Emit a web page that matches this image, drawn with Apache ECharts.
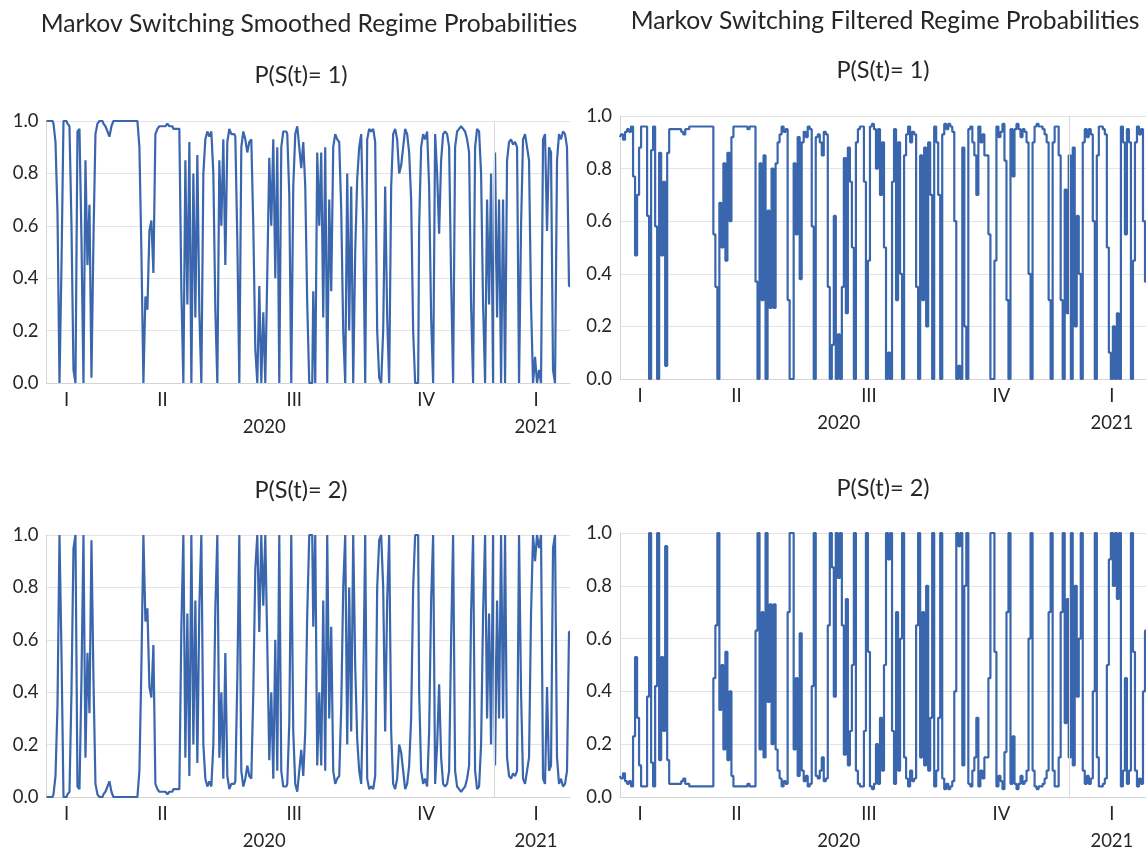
<!DOCTYPE html>
<html>
<head>
<meta charset="utf-8">
<script src="https://cdn.jsdelivr.net/npm/echarts@6/dist/echarts.min.js"></script>
<style>
html,body{margin:0;padding:0;background:#fff;}
#chart{width:1146px;height:852px;}
</style>
</head>
<body>
<div id="chart"></div>
<script>
// Smoothed P(S(t)=1)
var smoothedP1 = [
1.0,1.0,1.0,1.0,0.99,0.92,0.65,0.0,0.45,1.0,
1.0,0.99,0.98,0.6,0.05,0.0,0.96,0.97,0.55,0.0,
0.85,0.45,0.68,0.02,0.55,0.95,0.99,1.0,1.0,0.99,
0.98,0.96,0.94,0.98,1.0,1.0,1.0,1.0,1.0,1.0,
1.0,1.0,1.0,1.0,1.0,1.0,1.0,0.9,0.5,0.0,
0.33,0.28,0.58,0.62,0.42,0.95,0.97,0.98,0.98,0.98,
0.98,0.99,0.98,0.98,0.97,0.97,0.97,0.96,0.35,0.0,
0.85,0.3,0.92,0.0,0.8,0.25,0.87,0.27,0.0,0.8,
0.93,0.96,0.94,0.96,0.8,0.28,0.0,0.85,0.6,0.93,
0.45,0.92,0.97,0.95,0.95,0.94,0.55,0.0,0.9,0.96,
0.93,0.88,0.92,0.93,0.6,0.13,0.0,0.37,0.0,0.27,
0.0,0.42,0.86,0.6,0.93,0.4,0.9,0.0,0.9,0.96,
0.96,0.95,0.72,0.0,0.75,0.95,0.98,0.9,0.82,0.92,
0.75,0.3,0.0,0.0,0.35,0.0,0.88,0.6,0.88,0.25,
0.9,0.0,0.7,0.35,0.9,0.95,0.93,0.92,0.66,0.2,
0.0,0.8,0.2,0.75,0.0,0.5,0.78,0.9,0.95,0.6,
0.0,0.93,0.97,0.96,0.97,0.92,0.2,0.02,0.0,0.2,
0.75,0.25,0.0,0.75,0.95,0.97,0.93,0.8,0.83,0.9,
0.97,0.95,0.88,0.7,0.2,0.0,0.0,0.6,0.9,0.95,
0.93,0.96,0.75,0.25,0.0,0.95,0.8,0.57,0.85,0.95,
0.96,0.95,0.9,0.4,0.0,0.9,0.96,0.97,0.98,0.97,
0.96,0.93,0.88,0.3,0.0,0.9,0.97,0.96,0.8,0.3,
0.0,0.7,0.3,0.8,0.0,0.88,0.25,0.7,0.0,0.7,
0.0,0.85,0.92,0.93,0.91,0.92,0.9,0.0,0.6,0.93,
0.95,0.9,0.85,0.3,0.0,0.1,0.0,0.05,0.0,0.93,
0.95,0.58,0.9,0.88,0.05,0.0,0.85,0.95,0.93,0.96,
0.95,0.9,0.37
];
// Smoothed P(S(t)=2)
var smoothedP2 = [
0.0,0.0,0.0,0.0,0.01,0.08,0.35,1.0,0.55,0.0,
0.0,0.01,0.02,0.4,0.95,1.0,0.04,0.03,0.45,1.0,
0.15,0.55,0.32,0.98,0.45,0.05,0.01,0.0,0.0,0.01,
0.02,0.04,0.06,0.02,0.0,0.0,0.0,0.0,0.0,0.0,
0.0,0.0,0.0,0.0,0.0,0.0,0.0,0.1,0.5,1.0,
0.67,0.72,0.42,0.38,0.58,0.05,0.03,0.02,0.02,0.02,
0.02,0.01,0.02,0.02,0.03,0.03,0.03,0.04,0.65,1.0,
0.15,0.7,0.08,1.0,0.2,0.75,0.13,0.73,1.0,0.2,
0.07,0.04,0.06,0.04,0.2,0.72,1.0,0.15,0.4,0.07,
0.55,0.08,0.03,0.05,0.05,0.06,0.45,1.0,0.1,0.04,
0.07,0.12,0.08,0.07,0.4,0.87,1.0,0.63,1.0,0.73,
1.0,0.58,0.14,0.4,0.07,0.6,0.1,1.0,0.1,0.04,
0.04,0.05,0.28,1.0,0.25,0.05,0.02,0.1,0.18,0.08,
0.25,0.7,1.0,1.0,0.65,1.0,0.12,0.4,0.12,0.75,
0.1,1.0,0.3,0.65,0.1,0.05,0.07,0.08,0.34,0.8,
1.0,0.2,0.8,0.25,1.0,0.5,0.22,0.1,0.05,0.4,
1.0,0.07,0.03,0.04,0.03,0.08,0.8,0.98,1.0,0.8,
0.25,0.75,1.0,0.25,0.05,0.03,0.07,0.2,0.17,0.1,
0.03,0.05,0.12,0.3,0.8,1.0,1.0,0.4,0.1,0.05,
0.07,0.04,0.25,0.75,1.0,0.05,0.2,0.43,0.15,0.05,
0.04,0.05,0.1,0.6,1.0,0.1,0.04,0.03,0.02,0.03,
0.04,0.07,0.12,0.7,1.0,0.1,0.03,0.04,0.2,0.7,
1.0,0.3,0.7,0.2,1.0,0.12,0.75,0.3,1.0,0.3,
1.0,0.15,0.08,0.07,0.09,0.08,0.1,1.0,0.4,0.07,
0.05,0.1,0.15,0.7,1.0,0.9,1.0,0.95,1.0,0.07,
0.05,0.42,0.1,0.12,0.95,1.0,0.15,0.05,0.07,0.04,
0.05,0.1,0.63
];
// Filtered P(S(t)=1)
var filteredP1 = [
0.92,0.93,0.91,0.94,0.95,0.94,0.96,0.77,0.47,0.7,
0.88,0.96,0.96,0.96,0.62,0.0,0.87,0.96,0.58,0.0,
0.86,0.47,0.75,0.05,0.86,0.95,0.95,0.95,0.95,0.95,
0.95,0.94,0.93,0.95,0.95,0.96,0.96,0.96,0.96,0.96,
0.96,0.96,0.96,0.96,0.96,0.96,0.96,0.55,0.35,0.0,
0.67,0.5,0.82,0.45,0.86,0.6,0.92,0.96,0.96,0.96,
0.96,0.96,0.96,0.96,0.95,0.96,0.96,0.96,0.37,0.0,
0.82,0.3,0.85,0.0,0.64,0.27,0.8,0.27,0.82,0.9,
0.93,0.96,0.94,0.95,0.3,0.0,0.0,0.82,0.55,0.92,
0.38,0.9,0.94,0.92,0.96,0.95,0.58,0.0,0.92,0.93,
0.9,0.85,0.94,0.93,0.35,0.0,0.13,0.62,0.0,0.17,
0.0,0.35,0.84,0.25,0.88,0.75,0.5,0.0,0.9,0.95,
0.96,0.96,0.75,0.0,0.45,0.96,0.97,0.95,0.8,0.95,
0.7,0.9,0.5,0.0,0.1,0.0,0.75,0.95,0.3,0.9,
0.4,0.0,0.85,0.93,0.96,0.9,0.94,0.93,0.35,0.0,
0.85,0.3,0.88,0.2,0.9,0.7,0.0,0.96,0.9,0.7,
0.0,0.93,0.97,0.95,0.97,0.96,0.94,0.6,0.0,0.05,
0.0,0.88,0.2,0.0,0.95,0.96,0.9,0.85,0.7,0.96,
0.9,0.93,0.85,0.85,0.55,0.0,0.0,0.45,0.96,0.92,
0.94,0.97,0.83,0.3,0.0,0.95,0.77,0.95,0.97,0.95,
0.92,0.95,0.94,0.9,0.4,0.0,0.9,0.96,0.97,0.96,
0.96,0.95,0.93,0.9,0.3,0.0,0.9,0.96,0.96,0.85,
0.3,0.0,0.72,0.25,0.85,0.0,0.88,0.2,0.62,0.4,
0.0,0.9,0.95,0.92,0.95,0.93,0.6,0.0,0.85,0.96,
0.96,0.95,0.93,0.5,0.1,0.0,0.2,0.0,0.25,0.0,
0.96,0.9,0.55,0.95,0.9,0.0,0.45,0.9,0.96,0.93,
0.95,0.6,0.37
];
// Filtered P(S(t)=2)
var filteredP2 = [
0.08,0.07,0.09,0.06,0.05,0.06,0.04,0.23,0.53,0.3,
0.12,0.04,0.04,0.04,0.38,1.0,0.13,0.04,0.42,1.0,
0.14,0.53,0.25,0.95,0.14,0.05,0.05,0.05,0.05,0.05,
0.05,0.06,0.07,0.05,0.05,0.04,0.04,0.04,0.04,0.04,
0.04,0.04,0.04,0.04,0.04,0.04,0.04,0.45,0.65,1.0,
0.33,0.5,0.18,0.55,0.14,0.4,0.08,0.04,0.04,0.04,
0.04,0.04,0.04,0.04,0.05,0.04,0.04,0.04,0.63,1.0,
0.18,0.7,0.15,1.0,0.36,0.73,0.2,0.73,0.18,0.1,
0.07,0.04,0.06,0.05,0.7,1.0,1.0,0.18,0.45,0.08,
0.62,0.1,0.06,0.08,0.04,0.05,0.42,1.0,0.08,0.07,
0.1,0.15,0.06,0.07,0.65,1.0,0.87,0.38,1.0,0.83,
1.0,0.65,0.16,0.75,0.12,0.25,0.5,1.0,0.1,0.05,
0.04,0.04,0.25,1.0,0.55,0.04,0.03,0.05,0.2,0.05,
0.3,0.1,0.5,1.0,0.9,1.0,0.25,0.05,0.7,0.1,
0.6,1.0,0.15,0.07,0.04,0.1,0.06,0.07,0.65,1.0,
0.15,0.7,0.12,0.8,0.1,0.3,1.0,0.04,0.1,0.3,
1.0,0.07,0.03,0.05,0.03,0.04,0.06,0.4,1.0,0.95,
1.0,0.12,0.8,1.0,0.05,0.04,0.1,0.15,0.3,0.04,
0.1,0.07,0.15,0.15,0.45,1.0,1.0,0.55,0.04,0.08,
0.06,0.03,0.17,0.7,1.0,0.05,0.23,0.05,0.03,0.05,
0.08,0.05,0.06,0.1,0.6,1.0,0.1,0.04,0.03,0.04,
0.04,0.05,0.07,0.1,0.7,1.0,0.1,0.04,0.04,0.15,
0.7,1.0,0.28,0.75,0.15,1.0,0.12,0.8,0.38,0.6,
1.0,0.1,0.05,0.08,0.05,0.07,0.4,1.0,0.15,0.04,
0.04,0.05,0.07,0.5,0.9,1.0,0.8,1.0,0.75,1.0,
0.04,0.1,0.45,0.05,0.1,1.0,0.55,0.1,0.04,0.07,
0.05,0.4,0.63
];
// Observation index categories
var categories = [];
for (var k = 0; k < smoothedP1.length; k++) { categories.push(String(k + 1)); }
// Tick labels
var quarterLabels = ['I', 'II', 'III', 'IV', 'I'];
var quarterIdx = [10, 58, 124, 190, 245];
var yearLabels = ['2020', '2021'];
var yearIdx = [109, 245];
var yearBreakIdx = 224;

var FONT = 'Lato, "Open Sans", sans-serif';
var BLUE = '#3a66ae';
var TXT = '#262626';
var TICKSIZE = 18.5;

var grids = [
  {left: 46.5, top: 121, width: 523.5, height: 262},
  {left: 620, top: 116, width: 527, height: 263},
  {left: 46.5, top: 535, width: 523.5, height: 262},
  {left: 620, top: 533, width: 527, height: 264}
];
var seriesData = [smoothedP1, filteredP1, smoothedP2, filteredP2];

var xAxes = [], yAxes = [], series = [];
grids.forEach(function (g, gi) {
  xAxes.push({
    type: 'category', gridIndex: gi, data: categories, boundaryGap: false,
    axisLine: {show: true, lineStyle: {color: '#d4d4d4', width: 1}},
    axisTick: {show: false},
    splitLine: {show: false},
    axisLabel: {
      margin: 8, color: TXT, fontFamily: FONT, fontSize: TICKSIZE,
      interval: function (index) { return quarterIdx.indexOf(index) >= 0; },
      formatter: function (v, index) { var p = quarterIdx.indexOf(index); return p >= 0 ? quarterLabels[p] : ''; }
    }
  });
  xAxes.push({
    type: 'category', gridIndex: gi, data: categories, boundaryGap: false,
    position: 'bottom', offset: 27,
    axisLine: {show: false}, axisTick: {show: false}, splitLine: {show: false},
    axisLabel: {
      margin: 8, color: TXT, fontFamily: FONT, fontSize: TICKSIZE,
      interval: function (index) { return yearIdx.indexOf(index) >= 0; },
      formatter: function (v, index) { var p = yearIdx.indexOf(index); return p >= 0 ? yearLabels[p] : ''; }
    }
  });
  yAxes.push({
    type: 'value', gridIndex: gi, min: 0, max: 1, interval: 0.2,
    axisLine: {show: true, lineStyle: {color: '#d4d4d4', width: 1}},
    axisTick: {show: false},
    splitLine: {show: true, lineStyle: {color: '#e4e4e4', width: 1}},
    axisLabel: {
      margin: 8, color: TXT, fontFamily: FONT, fontSize: TICKSIZE,
      formatter: function (v) { return v.toFixed(1); }
    }
  });
  series.push({
    type: 'line', xAxisIndex: gi * 2, yAxisIndex: gi,
    data: seriesData[gi], showSymbol: false, symbol: 'none', step: 'middle',
    lineStyle: {color: BLUE, width: 2.2}, silent: true, animation: false,
    markLine: {
      silent: true, symbol: 'none', label: {show: false},
      lineStyle: {color: '#d9d9d9', width: 1, type: 'solid'},
      data: [{xAxis: yearBreakIdx}]
    }
  });
});

var titles = [
  {x: 309, y: 24, text: 'Markov Switching Smoothed Regime Probabilities', size: 24.7},
  {x: 885, y: 21, text: 'Markov Switching Filtered Regime Probabilities', size: 24.7},
  {x: 301, y: 75, text: 'P(S(t)= 1)', size: 23.5},
  {x: 883, y: 70, text: 'P(S(t)= 1)', size: 23.5},
  {x: 301, y: 490, text: 'P(S(t)= 2)', size: 23.5},
  {x: 883, y: 488, text: 'P(S(t)= 2)', size: 23.5}
];
var graphics = titles.map(function (t) {
  return {type: 'text', x: t.x, y: t.y, silent: true,
    style: {text: t.text, fill: TXT, font: t.size + 'px ' + FONT, textAlign: 'center', textVerticalAlign: 'middle'}};
});

var chart = echarts.init(document.getElementById('chart'), null, {renderer: 'canvas'});
chart.setOption({
  animation: false,
  backgroundColor: '#ffffff',
  grid: grids,
  xAxis: xAxes,
  yAxis: yAxes,
  series: series,
  graphic: graphics
});
</script>
</body>
</html>
